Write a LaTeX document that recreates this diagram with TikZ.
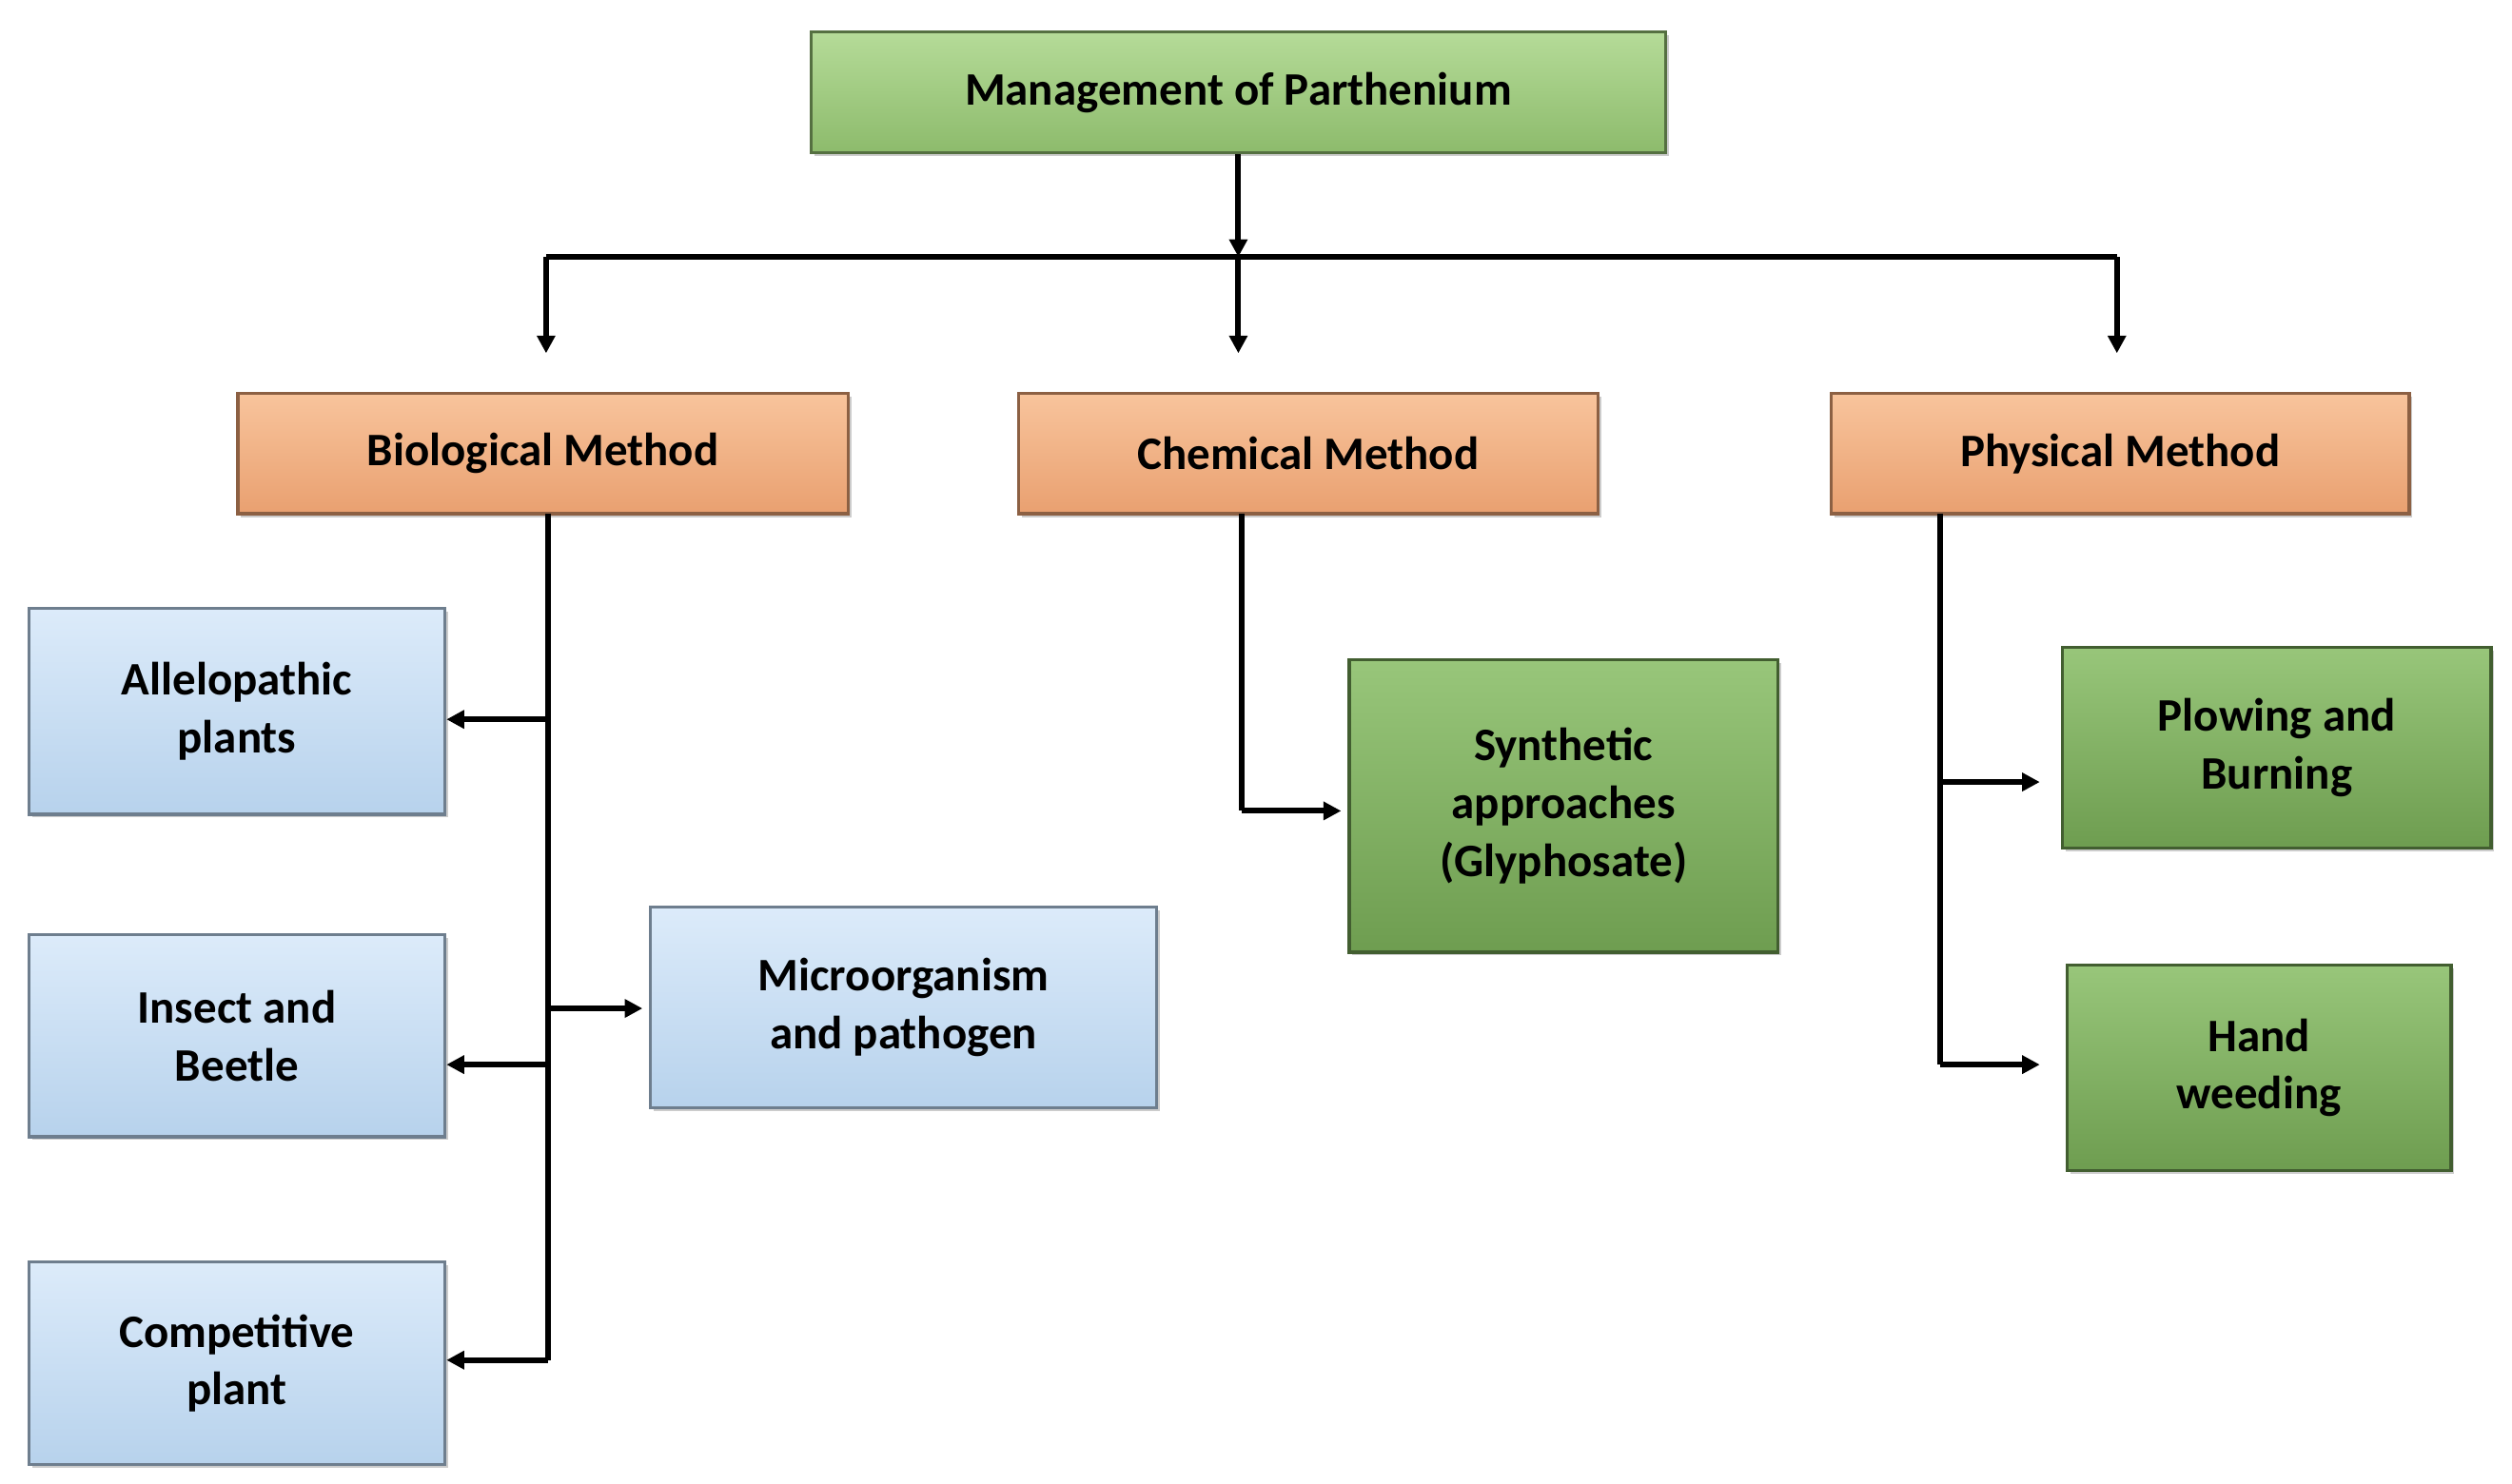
\documentclass[tikz,border=0pt]{standalone}
\usepackage{fontspec}
\setmainfont{Carlito}
\usetikzlibrary{arrows.meta,shadows}
\definecolor{gA}{HTML}{B5DB98}\definecolor{gB}{HTML}{8DBB6C}
\definecolor{gC}{HTML}{98C67A}\definecolor{gD}{HTML}{6E9D50}
\definecolor{oA}{HTML}{F8C49C}\definecolor{oB}{HTML}{E9A070}
\definecolor{bA}{HTML}{DCEBFA}\definecolor{bB}{HTML}{B7D2EC}
\tikzset{
 box/.style={draw=#1!60!black, line width=2pt, inner sep=0pt, align=center,
   font=\fontsize{29}{36}\selectfont\bfseries, drop shadow={shadow xshift=2pt,shadow yshift=-2pt,opacity=0.4}},
 lg/.style={box=gB, top color=gA, bottom color=gB},
 dg/.style={box=gD, top color=gC, bottom color=gD},
 org/.style={box=oB, top color=oA, bottom color=oB},
 blu/.style={box=bB, top color=bA, bottom color=bB},
 ln/.style={line width=3.5pt, -{Triangle[length=11pt,width=11pt]}},
 pl/.style={line width=3.5pt}
}
\newcommand{\bx}[7]{\node[#1, minimum width={#4-#2}, minimum height={#5-#3}] (#6) at ({(#2+#4)/2},{(#3+#5)/2}) {#7};}
\begin{document}
\begin{tikzpicture}[x=1pt,y=-1pt]
\useasboundingbox (0,0) rectangle (1564,924);
\bx{lg}{505}{20}{1037}{95}{top}{Management of Parthenium}
\bx{org}{148}{245}{528}{320}{bio}{Biological Method}
\bx{org}{634}{245}{995}{320}{che}{Chemical Method}
\bx{org}{1140}{245}{1500}{320}{phy}{Physical Method}
\bx{blu}{18}{379}{277}{507}{all}{Allelopathic\\plants}
\bx{blu}{18}{582}{277}{708}{ins}{Insect and\\Beetle}
\bx{blu}{18}{786}{277}{912}{com}{Competitive\\plant}
\bx{blu}{405}{565}{720}{690}{mic}{Microorganism\\and pathogen}
\bx{dg}{840}{411}{1107}{593}{syn}{Synthetic\\approaches\\(Glyphosate)}
\bx{dg}{1284}{403}{1551}{528}{plo}{Plowing and\\Burning}
\bx{dg}{1287}{601}{1526}{729}{han}{Hand\\weeding}
\coordinate (j) at (771,160);
\coordinate (jl) at (340,160);
\coordinate (jr) at (1318,160);
\draw[ln] (top.south -| j) -- (j);
\draw[pl] (jl) -- (jr);
\draw[ln] (jl) -- (340,220);
\draw[ln] (j) -- (771,220);
\draw[ln] (jr) -- (1318,220);
% biological
\coordinate (b0) at (341,320);
\coordinate (b1) at (341,448);
\coordinate (b2) at (341,663);
\coordinate (b3) at (341,847);
\coordinate (bm) at (341,628);
\draw[pl] (b0) -- (b3);
\draw[ln] (b1) -- (b1 -| all.east);
\draw[ln] (b2) -- (b2 -| ins.east);
\draw[ln] (b3) -- (b3 -| com.east);
\draw[ln] (bm) -- (400,628);
% chemical
\coordinate (c0) at (773,320);
\coordinate (c1) at (773,505);
\draw[pl] (c0) -- (c1);
\draw[ln] (c1) -- (835,505);
% physical
\coordinate (p0) at (1208,320);
\coordinate (p1) at (1208,487);
\coordinate (p2) at (1208,663);
\draw[pl] (p0) -- (p2);
\draw[ln] (p1) -- (1270,487);
\draw[ln] (p2) -- (1270,663);
\end{tikzpicture}
\end{document}
